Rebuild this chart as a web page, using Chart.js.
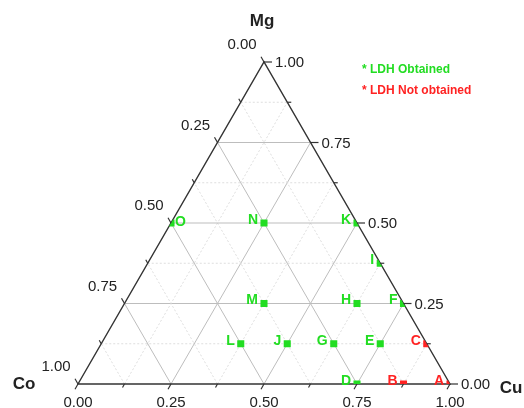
<!DOCTYPE html>
<html>
<head>
<meta charset="utf-8">
<script src="https://cdn.jsdelivr.net/npm/chart.js@4/dist/chart.umd.min.js"></script>
<style>
  body { margin: 0; background: #fff; }
  canvas { display: block; }
</style>
</head>
<body>
<canvas id="chart" width="524" height="408"></canvas>
<script>
// sample compositions (fractions), Co = 1 - Cu - Mg
const sampleLabels = ["A", "B", "C", "D", "E", "F", "G", "H", "I", "J", "K", "L", "M", "N", "O"];
const cuFraction = [1.0, 0.875, 0.875, 0.75, 0.75, 0.75, 0.625, 0.625, 0.625, 0.5, 0.5, 0.375, 0.375, 0.25, 0.0];
const mgFraction = [0.0, 0.0, 0.125, 0.0, 0.125, 0.25, 0.125, 0.25, 0.375, 0.125, 0.5, 0.125, 0.25, 0.5, 0.5];
const ldhObtained = [false, false, false, true, true, true, true, true, true, true, true, true, true, true, true];

const gridTicks = [0.125, 0.25, 0.375, 0.5, 0.625, 0.75, 0.875];
const axisTicks = [0, 0.125, 0.25, 0.375, 0.5, 0.625, 0.75, 0.875, 1];
const tickLabels = ["0.00", "0.25", "0.50", "0.75", "1.00"];
const tickLabelValues = [0, 0.25, 0.5, 0.75, 1];

const GREEN = "#22dd22";
const RED = "#ff2222";
const H = Math.sqrt(3) / 2;
const FONT = "'Liberation Sans', Arial, sans-serif";

const toXY = (cu, mg) => ({ x: cu + mg / 2, y: mg * H });

const points = cuFraction.map((cu, i) => toXY(cu, mgFraction[i]));
const pointColors = ldhObtained.map((ok) => (ok ? GREEN : RED));

function pix(chart, cu, mg) {
  const p = toXY(cu, mg);
  return {
    x: chart.scales.x.getPixelForValue(p.x),
    y: chart.scales.y.getPixelForValue(p.y),
  };
}

function line(ctx, a, b) {
  ctx.beginPath();
  ctx.moveTo(a.x, a.y);
  ctx.lineTo(b.x, b.y);
  ctx.stroke();
}

function trianglePath(chart) {
  const ctx = chart.ctx;
  const co = pix(chart, 0, 0);
  const cu = pix(chart, 1, 0);
  const mg = pix(chart, 0, 1);
  ctx.beginPath();
  ctx.moveTo(co.x, co.y);
  ctx.lineTo(cu.x, cu.y);
  ctx.lineTo(mg.x, mg.y);
  ctx.closePath();
}

const ternaryPlugin = {
  id: "ternary",
  beforeDatasetsDraw(chart) {
    const ctx = chart.ctx;
    ctx.save();
    gridTicks.forEach((v) => {
      const major = v % 0.25 === 0;
      ctx.strokeStyle = major ? "#bdbdbd" : "#dedede";
      ctx.lineWidth = 1;
      ctx.setLineDash(major ? [] : [2, 2]);
      // constant Mg
      line(ctx, pix(chart, 0, v), pix(chart, 1 - v, v));
      // constant Cu
      line(ctx, pix(chart, v, 0), pix(chart, v, 1 - v));
      // constant Co
      line(ctx, pix(chart, 1 - v, 0), pix(chart, 0, 1 - v));
    });
    ctx.setLineDash([]);

    // outline
    ctx.strokeStyle = "#333";
    ctx.lineWidth = 1.4;
    trianglePath(chart);
    ctx.stroke();
    ctx.restore();

    // markers are clipped to the triangle
    ctx.save();
    trianglePath(chart);
    ctx.clip();
  },
  afterDatasetsDraw(chart) {
    const ctx = chart.ctx;
    ctx.restore();
    ctx.save();

    // ticks
    ctx.strokeStyle = "#333";
    ctx.lineWidth = 1.2;
    axisTicks.forEach((t) => {
      const major = t % 0.25 === 0;
      const len = major ? 6 : 4;
      const b = pix(chart, t, 0);
      line(ctx, b, { x: b.x - 0.5 * len, y: b.y + H * len });
      const r = pix(chart, 1 - t, t);
      line(ctx, r, { x: r.x + (major ? 8 : 4), y: r.y });
      const l = pix(chart, 0, 1 - t);
      line(ctx, l, { x: l.x - 0.5 * len, y: l.y - H * len });
    });

    // tick labels
    ctx.fillStyle = "#222";
    ctx.font = "15px " + FONT;
    ctx.textBaseline = "middle";
    tickLabelValues.forEach((t, i) => {
      const b = pix(chart, t, 0);
      ctx.textAlign = "center";
      ctx.fillText(tickLabels[i], b.x, b.y + 19);
      const l = pix(chart, 0, 1 - t);
      ctx.fillText(tickLabels[i], l.x - 22, l.y - 17);
      const r = pix(chart, 1 - t, t);
      ctx.textAlign = "left";
      ctx.fillText(tickLabels[i], r.x + 11, r.y + 1);
    });

    // axis titles
    ctx.font = "bold 17px " + FONT;
    ctx.textAlign = "center";
    const top = pix(chart, 0, 1);
    ctx.fillText("Mg", top.x - 2, 21);
    const left = pix(chart, 0, 0);
    ctx.fillText("Co", left.x - 54, left.y);
    const right = pix(chart, 1, 0);
    ctx.fillText("Cu", right.x + 61, right.y + 4);

    // point labels (O sits right of its marker, the rest to the left)
    ctx.font = "bold 14px " + FONT;
    points.forEach((p, i) => {
      const px = chart.scales.x.getPixelForValue(p.x);
      const py = chart.scales.y.getPixelForValue(p.y);
      ctx.fillStyle = pointColors[i];
      if (sampleLabels[i] === "O") {
        ctx.textAlign = "left";
        ctx.fillText(sampleLabels[i], px + 4, py - 1);
      } else {
        ctx.textAlign = "right";
        ctx.fillText(sampleLabels[i], px - 6, py - 3);
      }
    });

    // legend text
    ctx.font = "bold 12px " + FONT;
    ctx.textAlign = "left";
    ctx.fillStyle = GREEN;
    ctx.fillText("* LDH Obtained", 362, 70);
    ctx.fillStyle = RED;
    ctx.fillText("* LDH Not obtained", 362, 91);
    ctx.restore();
  },
};

new Chart(document.getElementById("chart"), {
  type: "scatter",
  data: {
    datasets: [
      {
        label: "Samples",
        data: points,
        pointStyle: "rect",
        pointRadius: 5,
        pointBackgroundColor: pointColors,
        pointBorderColor: pointColors,
        pointBorderWidth: 0,
        clip: false,
      },
    ],
  },
  options: {
    responsive: false,
    animation: false,
    layout: { padding: { left: 78, right: 74, top: 62, bottom: 24 } },
    plugins: { legend: { display: false }, tooltip: { enabled: false } },
    scales: {
      x: { type: "linear", min: 0, max: 1, display: false },
      y: { type: "linear", min: 0, max: H, display: false },
    },
  },
  plugins: [ternaryPlugin],
});
</script>
</body>
</html>
